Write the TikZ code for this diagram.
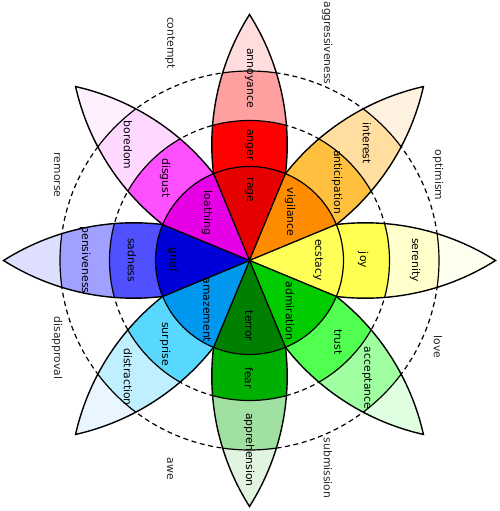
\documentclass[tikz,border=0pt]{standalone}
\usepackage{fontspec}
\setmainfont{DejaVu Sans}
\definecolor{rT}{HTML}{FFDDDD}\definecolor{rB}{HTML}{FFA0A0}\definecolor{rM}{HTML}{FF0000}\definecolor{rC}{HTML}{E60000}
\definecolor{oT}{HTML}{FFF1E0}\definecolor{oB}{HTML}{FFDEA0}\definecolor{oM}{HTML}{FFC040}\definecolor{oC}{HTML}{FF8C00}
\definecolor{yT}{HTML}{FFFFF0}\definecolor{yB}{HTML}{FFFFCC}\definecolor{yM}{HTML}{FFFF50}\definecolor{yC}{HTML}{FFFF58}
\definecolor{gT}{HTML}{E0FFE0}\definecolor{gB}{HTML}{A0FFA0}\definecolor{gM}{HTML}{50FF50}\definecolor{gC}{HTML}{00CC00}
\definecolor{fT}{HTML}{E0F4E0}\definecolor{fB}{HTML}{A0E0A0}\definecolor{fM}{HTML}{00B000}\definecolor{fC}{HTML}{008000}
\definecolor{cT}{HTML}{EAF6FF}\definecolor{cB}{HTML}{C0F0FF}\definecolor{cM}{HTML}{58D8FF}\definecolor{cC}{HTML}{0098EE}
\definecolor{bT}{HTML}{DEDEFF}\definecolor{bB}{HTML}{A0A0FF}\definecolor{bM}{HTML}{5050FF}\definecolor{bC}{HTML}{0000D8}
\definecolor{mT}{HTML}{FFF0FF}\definecolor{mB}{HTML}{FFD8FF}\definecolor{mM}{HTML}{FF50FF}\definecolor{mC}{HTML}{E600E6}
\newcommand\petalclip{\clip (86.84,35.97) arc[start angle=96.84,end angle=57.69,radius=243.5] arc[start angle=-57.69,end angle=-96.84,radius=243.5] -- (0,0) -- cycle;}
\newcommand\petaldraw{\draw[petalline] (86.84,35.97) arc[start angle=96.84,end angle=57.69,radius=243.5] arc[start angle=-57.69,end angle=-96.84,radius=243.5];}
\newcommand\drawpetal[4]{%
  \begin{scope}[rotate=#1]
    \begin{scope}
      \petalclip
      \fill[#2] (0,0) circle (250);
      \fill[#3] (0,0) circle (189.5);
      \fill[#4] (0,0) circle (140);
      \draw[bandline] (0,0) circle (189.5) (0,0) circle (140);
    \end{scope}
    \petaldraw
  \end{scope}}
\newcommand\corewedge[2]{%
  \filldraw[fill=#2,coreline] (0,0) -- ({#1-22.5}:94) arc[start angle={#1-22.5},end angle={#1+22.5},radius=94] -- cycle;}
\begin{document}
\begin{tikzpicture}[x=1pt,y=1pt,
  petalline/.style={draw=black,line width=1.4pt},
  bandline/.style={draw=black,line width=1.2pt},
  coreline/.style={draw=black,line width=1.2pt,line join=round},
  dashline/.style={draw=black,line width=1.2pt,dash pattern=on 5pt off 3.6pt},
  lab/.style={rotate=-90,font=\fontsize{10.8}{13}\selectfont,text=black,inner sep=0pt},
  dyad/.style={lab,text=black!85}]
\useasboundingbox (-249.5,-250.5) rectangle (249.5,260.5);
\coordinate (C) at (0,0);
\draw[dashline] (C) circle (140);
\draw[dashline] (C) circle (189.5);
\drawpetal{90}{rT}{rB}{rM}
\drawpetal{45}{oT}{oB}{oM}
\drawpetal{0}{yT}{yB}{yM}
\drawpetal{-45}{gT}{gB}{gM}
\drawpetal{-90}{fT}{fB}{fM}
\drawpetal{-135}{cT}{cB}{cM}
\drawpetal{180}{bT}{bB}{bM}
\drawpetal{135}{mT}{mB}{mM}
\corewedge{90}{rC}
\corewedge{45}{oC}
\corewedge{0}{yC}
\corewedge{-45}{gC}
\corewedge{-90}{fC}
\corewedge{-135}{cC}
\corewedge{180}{bC}
\corewedge{135}{mC}
% petal labels
\node[lab] (annoyance) at (-0.5,182.5) {annoyance};
\node[lab] (anger) at (-0.5,115.5) {anger};
\node[lab] (rage) at (-0.5,70.5) {rage};
\node[lab] (vigilance) at (40.5,48.5) {vigilance};
\node[lab] (anticipation) at (87.5,78.5) {anticipation};
\node[lab] (interest) at (117.5,117.5) {interest};
\node[lab] (ecstacy) at (68.5,0.5) {ecstacy};
\node[lab] (joy) at (113.5,0.5) {joy};
\node[lab] (serenity) at (165.5,0.5) {serenity};
\node[lab] (admiration) at (40.5,-50.5) {admiration};
\node[lab] (trust) at (88.5,-81.5) {trust};
\node[lab] (acceptance) at (117.5,-117.5) {acceptance};
\node[lab] (terror) at (-0.5,-65.5) {terror};
\node[lab] (fear) at (-0.5,-117.5) {fear};
\node[lab] (apprehension) at (-0.5,-189.5) {apprehension};
\node[lab] (amazement) at (-42.5,-49.5) {amazement};
\node[lab] (surprise) at (-84.5,-83.5) {surprise};
\node[lab] (distraction) at (-121.5,-116.5) {distraction};
\node[lab] (grief) at (-76.5,0.5) {grief};
\node[lab] (sadness) at (-117.5,0.5) {sadness};
\node[lab] (pensiveness) at (-164.5,0.5) {pensiveness};
\node[lab] (loathing) at (-42.5,47.5) {loathing};
\node[lab] (disgust) at (-84.5,82.5) {disgust};
\node[lab] (boredom) at (-121.5,115.5) {boredom};
% dyads
\node[dyad] (contempt) at (-79.5,217.5) {contempt};
\node[dyad] (aggressiveness) at (77.5,217.5) {aggressiveness};
\node[dyad] (optimism) at (188.5,85.5) {optimism};
\node[dyad] (love) at (188.5,-86.5) {love};
\node[dyad] (submission) at (78.5,-207.5) {submission};
\node[dyad] (awe) at (-79.5,-208.5) {awe};
\node[dyad] (disapproval) at (-192.5,-87.5) {disapproval};
\node[dyad] (remorse) at (-192.5,85.5) {remorse};
\end{tikzpicture}
\end{document}
